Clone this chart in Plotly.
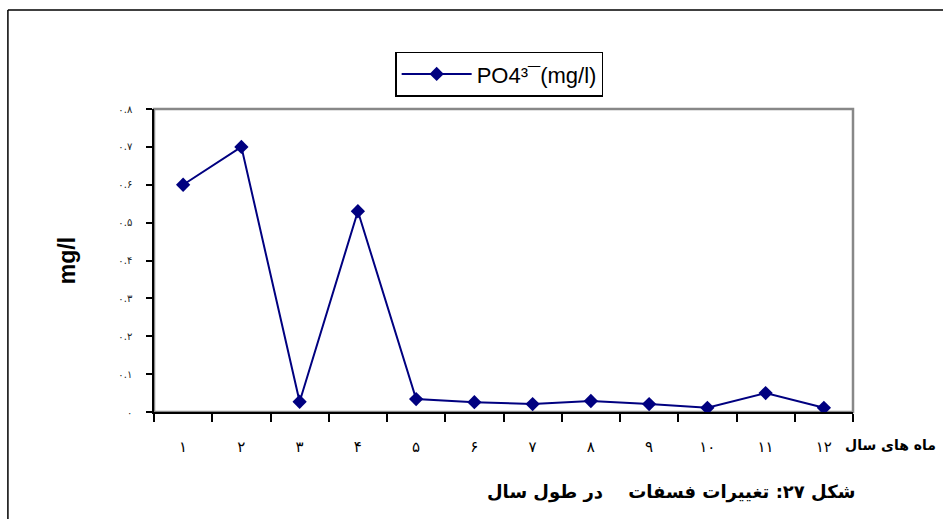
import plotly.graph_objects as go

months = ["۱", "۲", "۳", "۴", "۵", "۶", "۷", "۸", "۹", "۱۰", "۱۱", "۱۲"]
po4 = [0.60, 0.70, 0.027, 0.53, 0.034, 0.026, 0.021, 0.029, 0.021, 0.011, 0.05, 0.011]
y_tickvals = [0, 0.1, 0.2, 0.3, 0.4, 0.5, 0.6, 0.7, 0.8]
y_ticktext = ["۰", "۰.۱", "۰.۲", "۰.۳", "۰.۴", "۰.۵", "۰.۶", "۰.۷", "۰.۸"]
series_name = "PO4³¯(mg/l)"
y_title = "<b>mg/l</b>"
x_title = "<b>ماه های سال</b>"
caption = "<b>شکل ۲۷: تغییرات فسفات    در طول سال</b>"

navy = "#000080"

fig = go.Figure()
fig.add_trace(go.Scatter(
    x=months, y=po4, mode="lines+markers", name=series_name,
    line=dict(color=navy, width=2),
    marker=dict(symbol="diamond", size=11, color=navy),
))

fig.update_layout(
    width=943, height=519,
    margin=dict(l=154, r=90, t=109, b=107),
    paper_bgcolor="white", plot_bgcolor="white",
    showlegend=True,
    legend=dict(
        x=0.345, y=1.115, xanchor="left", yanchor="middle",
        bordercolor="black", borderwidth=1.5, bgcolor="white",
        font=dict(family="Liberation Sans, Arial", size=22, color="black"),
        itemwidth=70, tracegroupgap=0,
    ),
    font=dict(family="DejaVu Sans", color="black"),
)

fig.update_xaxes(
    type="category", range=[-0.5, 11.5],
    showline=True, linecolor="black", linewidth=1.5,
    ticks="outside", tickson="boundaries", ticklen=8, tickcolor="black", tickwidth=1.5,
    showgrid=False, zeroline=False, ticklabelstandoff=20,
    tickfont=dict(family="DejaVu Sans", size=15, color="black"),
)
fig.update_yaxes(
    range=[0, 0.8], tickvals=y_tickvals, ticktext=y_ticktext,
    showline=True, linecolor="black", linewidth=1.5,
    ticks="outside", ticklen=6, tickcolor="black", tickwidth=1.5,
    showgrid=False, zeroline=False, ticklabelstandoff=12,
    tickfont=dict(family="DejaVu Sans", size=10, color="#222222"),
    title=dict(text=y_title, font=dict(family="Liberation Sans, Arial", size=23, color="black"), standoff=36),
)

# gray plot-area frame (top/right)
fig.add_shape(type="rect", xref="paper", yref="paper", x0=0, y0=0, x1=1, y1=1,
              line=dict(color="#888888", width=2.5), layer="below")
# outer figure frame
fig.add_shape(type="line", xref="paper", yref="paper", x0=-0.209, y0=1.327, x1=1.2, y1=1.327,
              line=dict(color="black", width=1.5))
fig.add_shape(type="line", xref="paper", yref="paper", x0=-0.209, y0=1.327, x1=-0.209, y1=-0.4,
              line=dict(color="black", width=1.5))

fig.add_annotation(text=x_title, xref="paper", yref="paper", x=0.985, y=-0.11,
                   xanchor="left", yanchor="middle", showarrow=False,
                   font=dict(family="DejaVu Sans", size=14, color="black"))
fig.add_annotation(text=caption, xref="paper", yref="paper", x=0.74, y=-0.265,
                   xanchor="center", yanchor="middle", showarrow=False,
                   font=dict(family="DejaVu Sans", size=18, color="black"))

fig.write_html("out.html")
